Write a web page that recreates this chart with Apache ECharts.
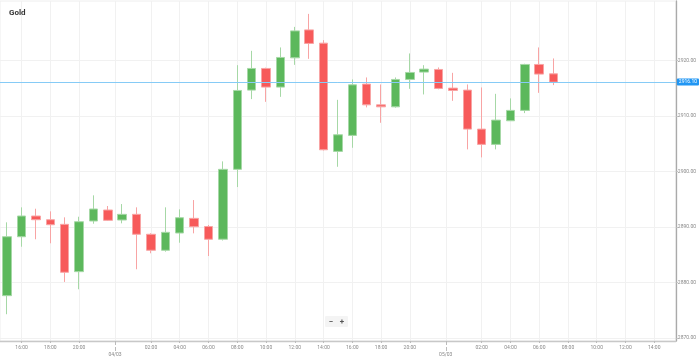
<!DOCTYPE html>
<html>
<head>
<meta charset="utf-8">
<script src="https://cdn.jsdelivr.net/npm/echarts@6/dist/echarts.min.js"></script>
<style>
html,body{margin:0;padding:0;background:#fff;}
#chart{width:699px;height:359px;}
</style>
</head>
<body>
<div id="chart"></div>
<script>
// Hourly candles (index on the trading-hour axis; 23:00 gap compressed)
var candleIdx = [0,1,2,3,4,5,6,7,8,9,10,11,12,13,14,15,16,17,18,19,20,21,22,23,24,25,26,27,28,29,30,31,32,33,34,35,36,37,38];
var openVals  = [2877.66,2888.27,2892.00,2891.33,2890.50,2881.98,2891.10,2893.08,2891.28,2892.30,2888.71,2885.83,2888.94,2891.58,2890.11,2887.82,2900.40,2914.66,2918.56,2915.20,2920.47,2925.50,2923.11,2903.63,2906.51,2915.74,2912.01,2911.65,2916.58,2917.90,2918.38,2915.02,2914.66,2907.64,2904.89,2909.14,2911.01,2919.28,2917.59];
var closeVals = [2888.27,2892.00,2891.33,2890.43,2881.87,2890.97,2893.26,2891.22,2892.30,2888.71,2885.83,2889.06,2891.69,2890.07,2887.81,2900.40,2914.60,2918.56,2915.20,2920.54,2925.32,2923.06,2903.92,2906.62,2915.61,2912.01,2911.65,2916.58,2917.84,2918.44,2914.96,2914.60,2907.64,2904.89,2909.26,2911.01,2919.28,2917.54,2916.10];
var lowVals   = [2874.32,2886.47,2887.81,2887.09,2880.13,2878.81,2890.61,2891.10,2890.68,2882.41,2885.29,2885.58,2887.19,2888.88,2884.80,2887.59,2897.21,2913.04,2912.55,2913.45,2919.21,2920.29,2903.80,2900.86,2904.28,2911.55,2908.78,2911.50,2914.89,2913.88,2914.80,2912.73,2903.99,2902.55,2903.99,2909.10,2910.52,2914.17,2915.56];
var highVals  = [2890.86,2893.56,2893.31,2892.84,2891.76,2891.87,2895.72,2893.80,2894.15,2893.56,2888.90,2893.56,2893.20,2894.87,2890.38,2901.83,2919.15,2921.73,2918.70,2922.34,2926.04,2928.38,2923.65,2912.91,2916.58,2916.94,2915.68,2916.94,2921.26,2919.15,2918.74,2917.77,2915.68,2915.14,2913.99,2913.17,2919.40,2922.34,2920.36];

// x-axis tick positions (same index scale) and their labels
var xTickPos    = [1,3,5,7.5,10,12,14,16,18,20,22,24,26,28,30.5,33,35,37,39,41,43,45];
var xTickLabels = ['16:00','18:00','20:00','04/03','02:00','04:00','06:00','08:00','10:00','12:00','14:00','16:00','18:00','20:00','05/03','02:00','04:00','06:00','08:00','10:00','12:00','14:00'];
var dateTicks   = ['04/03','05/03'];
var datePos     = [7.5, 30.5];

// y-axis ticks
var yTicks = [2870,2880,2890,2900,2910,2920];

var data = candleIdx.map(function(x,i){ return [x, openVals[i], closeVals[i], lowVals[i], highVals[i]]; });
var lastClose = closeVals[closeVals.length-1];

var chart = echarts.init(document.getElementById('chart'), null, {renderer:'canvas'});
var FONT = 'Roboto';
chart.setOption({
  animation:false,
  backgroundColor:'#ffffff',
  title:{text:'Gold', left:9, top:9, padding:0,
    textStyle:{fontSize:8, fontWeight:'bold', color:'#333', fontFamily:FONT}},
  grid:{left:0, right:23, top:1, bottom:18, show:true, borderColor:'#eeeeee', borderWidth:1, backgroundColor:'transparent'},
  xAxis:[{
    type:'value', min:-0.5, max:46.5, position:'bottom',
    axisLine:{show:true, onZero:false, lineStyle:{color:'#c8c8c8', width:1.3}},
    axisTick:{show:true, length:2, customValues:xTickPos, lineStyle:{color:'#bbb'}},
    axisLabel:{customValues:xTickPos, margin:3, fontSize:5, color:'#888', fontFamily:FONT, lineHeight:7,
      formatter:function(v){
        var i = xTickPos.indexOf(v); var t = i>=0 ? xTickLabels[i] : '';
        return dateTicks.indexOf(t)>=0 ? '\n'+t : t;
      }},
    splitLine:{show:true, lineStyle:{color:'#f1f1f1', width:1}}
  },{
    // dashed day-separator ticks
    type:'value', min:-0.5, max:46.5, position:'bottom',
    axisLine:{show:false, onZero:false},
    axisTick:{show:true, length:10, customValues:datePos, lineStyle:{color:'#bbb', type:'dashed'}},
    axisLabel:{show:false},
    splitLine:{show:false}
  }],
  yAxis:{
    type:'value', position:'right', min:2869.5, max:2930.7, scale:true,
    axisLine:{show:true, onZero:false, lineStyle:{color:'#aaaaaa', width:1.3}},
    axisTick:{show:true, length:2, customValues:yTicks, lineStyle:{color:'#bbb'}},
    axisLabel:{customValues:yTicks, margin:2, fontSize:5, color:'#888', fontFamily:FONT,
      formatter:function(v){ return v.toFixed(2); }},
    splitLine:{show:true, lineStyle:{color:'#f1f1f1', width:1}}
  },
  series:[{
    type:'candlestick',
    xAxisIndex:0,
    data:data,
    encode:{x:0, y:[1,2,3,4]},
    barWidth:9,
    itemStyle:{
      color:'#5cb85c', color0:'#f75a5a',
      borderColor:'#a6d8a6', borderColor0:'#f8a4a4', borderWidth:1
    },
    markLine:{
      silent:true, symbol:['none','none'],
      lineStyle:{color:'#86cbf6', type:'solid', width:1},
      label:{show:true, position:'end', distance:1, formatter:function(p){return p.value.toFixed(2);},
        backgroundColor:'#2196f3', color:'#fff', fontSize:5, fontFamily:FONT, padding:[1,2,1,2], borderRadius:1},
      data:[{yAxis:lastClose}]
    }
  }],
  graphic:[{
    type:'group', left:325, top:316,
    children:[
      {type:'rect', shape:{x:0,y:0,width:23,height:11,r:1}, style:{fill:'#f4f4f4'}},
      {type:'text', style:{x:6, y:5.5, text:'−', fontSize:8, fontWeight:'bold', fill:'#555', align:'center', verticalAlign:'middle', fontFamily:FONT}},
      {type:'text', style:{x:17, y:5.5, text:'+', fontSize:8, fontWeight:'bold', fill:'#555', align:'center', verticalAlign:'middle', fontFamily:FONT}}
    ]
  }]
});
</script>
</body>
</html>
